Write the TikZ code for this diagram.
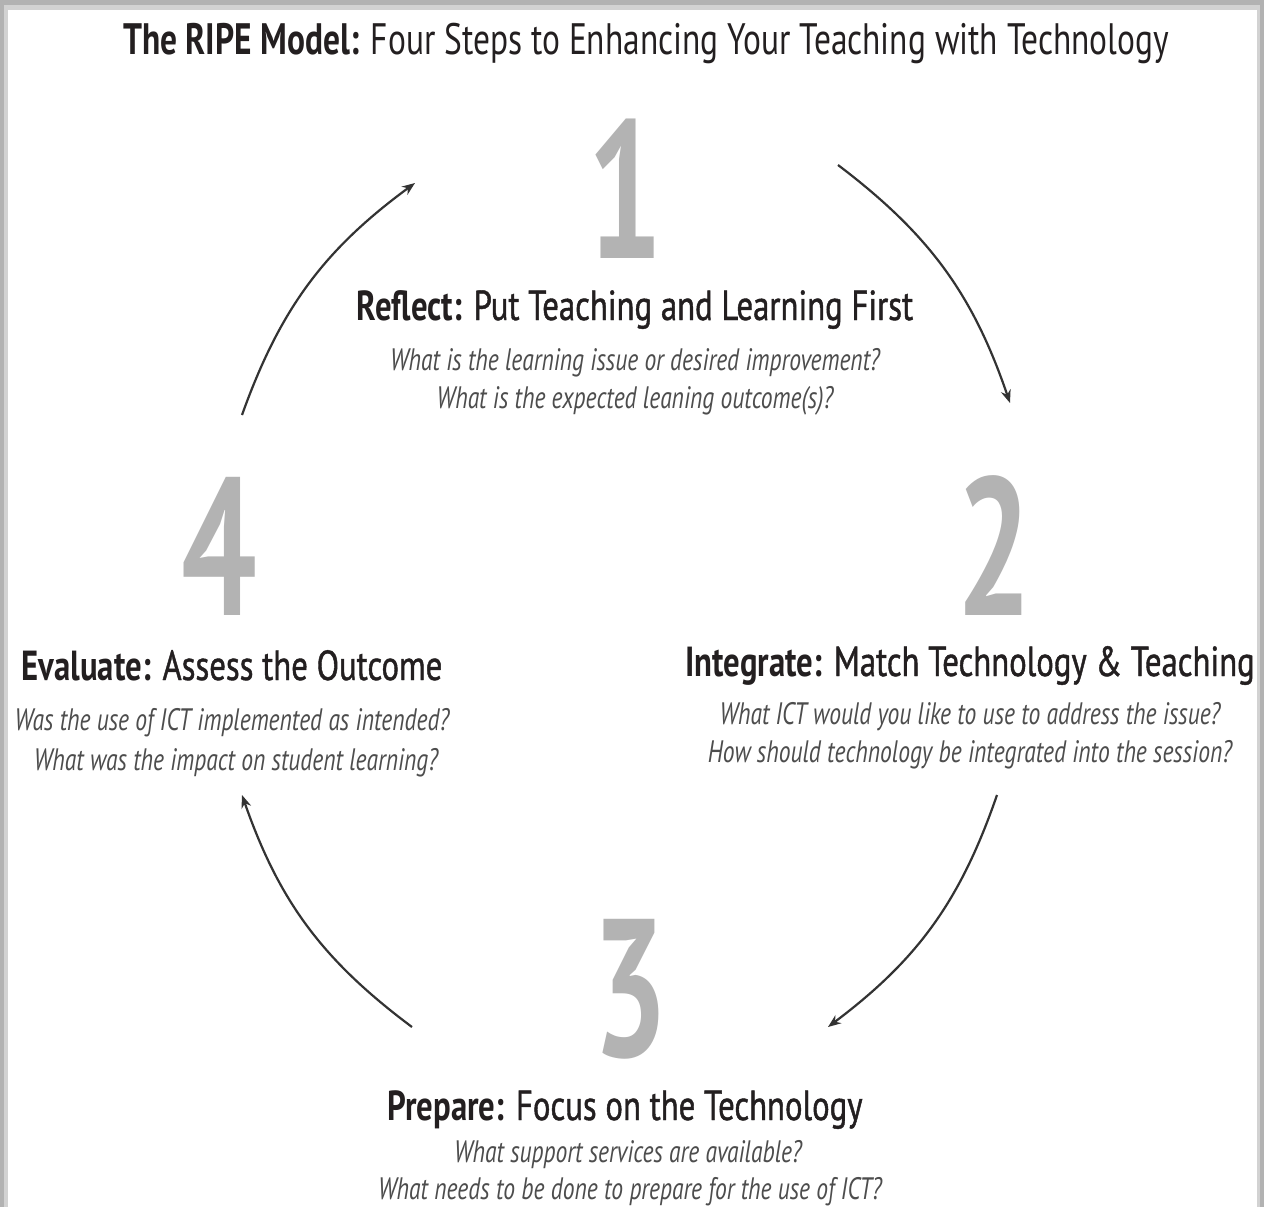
\documentclass[tikz,border=0pt]{standalone}
\usepackage{fontspec}
\setmainfont{PT Sans}
\newfontfamily\titlefont[FakeStretch=0.76]{PT Sans}
\newfontfamily\headfont[FakeStretch=0.78,FakeBold=1.0]{PT Sans}
\newfontfamily\headbold[FakeStretch=0.78]{PT Sans Bold}
\newfontfamily\qfont[FakeStretch=0.76]{PT Sans}
\newfontfamily\numfont[FakeStretch=0.68]{PT Sans}
\usetikzlibrary{arrows.meta}
\definecolor{numgray}{HTML}{B3B3B3}
\definecolor{headink}{HTML}{231F20}
\definecolor{qink}{HTML}{4D4D4D}
\definecolor{arrink}{HTML}{333333}
\begin{document}
\begin{tikzpicture}[x=1pt,y=-1pt,
  titletext/.style={font=\titlefont\fontsize{44}{48}\selectfont, text=headink, anchor=base, inner sep=0pt},
  headtext/.style={font=\headfont\fontsize{42}{46}\selectfont, text=headink, anchor=base, inner sep=0pt},
  qtext/.style={font=\qfont\itshape\fontsize{31}{36}\selectfont, text=qink, anchor=base, inner sep=0pt},
  numtext/.style={font=\numfont\bfseries\fontsize{196}{200}\selectfont, text=numgray, anchor=base, inner sep=0pt},
  cyclearrow/.style={draw=arrink, line width=2.2pt, -{Stealth[length=13pt,width=10pt]}}
]
\useasboundingbox (0,0) rectangle (1264,1207);
% frame with shadow
\fill[gray!60] (0,0) rectangle (1264,1207);
\fill[gray!35] (4,5) rectangle (1260,1207);
\fill[white] (8,10) rectangle (1257,1207);

% title
\node[titletext] (title) at (646,55) {\textbf{The RIPE Model:} Four Steps to Enhancing Your Teaching with Technology};

% step 1
\node[numtext] (n1) at (625,258) {1};
\node[headtext] (h1) at (635,320) {{\headbold Reflect:} Put Teaching and Learning First};
\node[qtext] (q1a) at (635,370) {What is the learning issue or desired improvement?};
\node[qtext] (q1b) at (635,408) {What is the expected leaning outcome(s)?};

% step 2
\node[numtext] (n2) at (994,615) {2};
\node[headtext] (h2) at (970,676) {{\headbold Integrate:} Match Technology \& Teaching};
\node[qtext] (q2a) at (970,724) {What ICT would you like to use to address the issue?};
\node[qtext] (q2b) at (970,762) {How should technology be integrated into the session?};

% step 3
\node[numtext] (n3) at (630,1056) {3};
\node[headtext] (h3) at (625,1120) {{\headbold Prepare:} Focus on the Technology};
\node[qtext] (q3a) at (628,1162) {What support services are available?};
\node[qtext] (q3b) at (630,1199) {What needs to be done to prepare for the use of ICT?};

% step 4
\node[numtext] (n4) at (219,615) {4};
\node[headtext] (h4) at (232,680) {{\headbold Evaluate:} Assess the Outcome};
\node[qtext] (q4a) at (232,730) {Was the use of ICT implemented as intended?};
\node[qtext] (q4b) at (236,770) {What was the impact on student learning?};

% arrows
\coordinate (a1s) at (838,165);
\coordinate (a1e) at (1010,403);
\coordinate (a2s) at (997,795);
\coordinate (a2e) at (828,1027);
\coordinate (a3s) at (412,1027);
\coordinate (a3e) at (242,795);
\coordinate (a4s) at (242,415);
\coordinate (a4e) at (415,183);
\draw[cyclearrow] (a1s) to[bend left=17] (a1e);
\draw[cyclearrow] (a2s) to[bend left=17] (a2e);
\draw[cyclearrow] (a3s) to[bend left=17] (a3e);
\draw[cyclearrow] (a4s) to[bend left=17] (a4e);
\end{tikzpicture}
\end{document}
